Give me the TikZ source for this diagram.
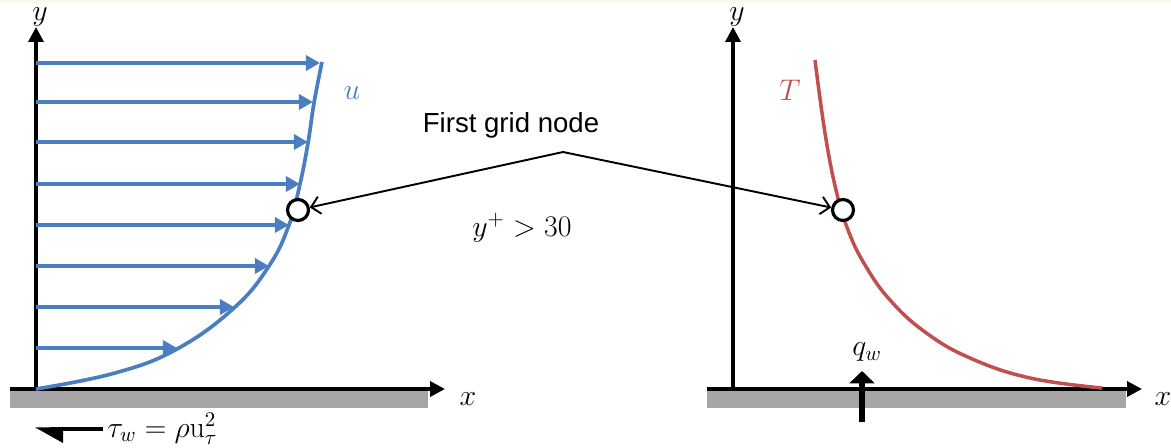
\RequirePackage{fix-cm}
\documentclass[tikz,border=0pt]{standalone}
\usepackage{fontspec}
\usepackage{tikz}
\usetikzlibrary{arrows.meta}
\newfontfamily\figsans{Liberation Sans}
\definecolor{figline}{RGB}{0,0,0}
\definecolor{figblue}{RGB}{74,126,192}
\definecolor{figred}{RGB}{192,80,77}
\definecolor{figwall}{RGB}{166,166,166}
\definecolor{figtop}{RGB}{249,250,238}
\tikzset{
  ax/.style   ={draw=figline, line width=2pt, -{Triangle[length=8.5pt,width=8.5pt]}},
  vel/.style  ={draw=figblue, line width=2.1pt, -{Triangle[length=8pt,width=8.5pt]}},
  prof/.style ={draw=figblue, line width=2.1pt},
  tprof/.style={draw=figred, line width=2pt},
  wall/.style ={fill=figwall},
  gnode/.style={circle, draw=figline, line width=1.8pt, fill=white, minimum size=0.42cm, inner sep=0pt},
  ptr/.style  ={draw=figline, line width=1.1pt, -{Straight Barb[length=5pt,width=10pt]}},
  lab/.style  ={font=\figsans\fontsize{15.7}{19}\selectfont, inner sep=1pt},
  labm/.style ={font=\fontsize{17}{20}\selectfont, inner sep=0pt},
}
\begin{document}
\begin{tikzpicture}[x=0.02cm,y=-0.02cm]
  \useasboundingbox (0,0) rectangle (1171,447);
  \fill[figtop] (0,0) rectangle (1171,3);
  % left: velocity profile
  \fill[wall] (10,390) rectangle (428,408);
  \draw[ax] (10,389) -- (445,389);
  \draw[ax] (36,389) -- (36,27);
  \node[labm] (xl) at (468,399) {$x$};
  \node[labm] (yl) at (40,17) {$y$};
  \foreach \yy/\xx in {63/320,102/313,142/308,184/300,225/289,266/269,307/234,348/177}
    \draw[vel] (36,\yy) -- (\xx,\yy);
  \draw[prof] plot[smooth,tension=0.7] coordinates {(36,389) (115,373) (177,349) (234,308) (269,266) (289,225) (300,184) (308,143) (314,103) (322,62)};
  \node[labm,text=figblue] (ul) at (352,93) {$u$};
  \draw[line width=2pt] (103,429) -- (50,429);
  \fill (35,427.3) -- (63,427.3) -- (63,443) -- cycle;
  \node[labm,anchor=west] (tau) at (107,429) {$\tau_w=\rho\mathrm{u}_\tau^2$};
  % right: temperature profile
  \fill[wall] (707,390) rectangle (1126,408);
  \draw[ax] (707,389) -- (1142,389);
  \draw[ax] (733,389) -- (733,27);
  \node[labm] (xr) at (1163,399) {$x$};
  \node[labm] (yr) at (737,17) {$y$};
  \draw[tprof] plot[smooth,tension=0.7] coordinates {(815,60) (825,133) (836,190) (848,230) (865,265) (890,300) (925,332) (970,358) (1030,378) (1102,388)};
  \node[labm,text=figred] (tl) at (790,90) {$T$};
  \draw[line width=3.6pt,-{Triangle[length=7pt,width=14pt]}] (862,422) -- (862,371);
  \node[labm] (qw) at (867,352) {$q_w$};
  % first grid node
  \node[gnode] (lc) at (298,210) {};
  \node[gnode] (rc) at (843,210) {};
  \node[lab] (fg) at (511,125) {First grid node};
  \coordinate (apex) at (563,152);
  \draw[ptr] (apex) -- (lc);
  \draw[ptr] (apex) -- (rc);
  \node[labm] (yp) at (522,228) {$y^+>30$};
\end{tikzpicture}
\end{document}
